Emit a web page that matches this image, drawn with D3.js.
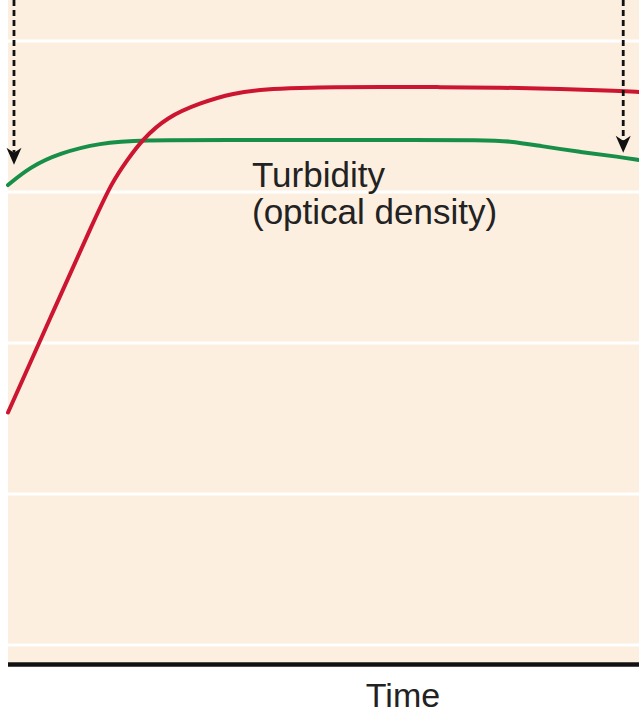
<!DOCTYPE html>
<head>
<meta charset="utf-8">
<style>
body { margin: 0; background: #fff; }
svg { display: block; }
.panel { fill: #fdefe0; }
.grid line { stroke: #fff; stroke-width: 3; }
.series { fill: none; stroke-width: 4; stroke-linecap: round; }
.baseline { stroke: #111; stroke-width: 4.5; }
.arrow line { stroke: #111; stroke-width: 2.8; stroke-dasharray: 6 4; }
.arrow path { fill: #111; }
text { font-family: "Liberation Sans", Arial, sans-serif; fill: #222; }
</style>
</head>
<body>
<svg></svg>
<script src="https://cdn.jsdelivr.net/npm/d3@7"></script>
<script>

/* global d3 */

// time runs 0..100 across the panel, values in grid units (grid lines at 0..4)
const gridValues = [0, 1, 2, 3, 4]

const redTime  = [0, 6.7, 13.8, 16.5, 18.9, 21.2, 25.2, 30.4, 35.7, 41.0, 46.3, 51.5, 58.9, 68.5, 78.0, 87.5, 97.0, 100]
const redValue = [1.54, 2.166, 2.828, 3.066, 3.212, 3.344, 3.497, 3.589, 3.656, 3.682, 3.689, 3.695, 3.695, 3.695, 3.692, 3.682, 3.669, 3.662]

const greenTime  = [0, 3.5, 8.2, 14.6, 20.9, 35, 50, 65, 74.8, 79.6, 84.3, 90.6, 97.0, 100]
const greenValue = [3.046, 3.166, 3.258, 3.325, 3.344, 3.344, 3.344, 3.344, 3.344, 3.338, 3.305, 3.265, 3.232, 3.212]

const arrowTime  = [0.95, 97.5]
const arrowValue = [3.18, 3.26]

const labelLines = ['Turbidity', '(optical density)']
const axisTitle = 'Time'

const size = {width: 639, height: 713}
const panel = {left: 8, right: 639, top: 0, bottom: 662}

const svg = d3.select('svg')
  .attr('width', size.width)
  .attr('height', size.height)

const x = d3.scaleLinear().domain([0, 100]).range([panel.left, panel.right])
const y = d3.scaleLinear().domain([0, 4]).range([645, 41])

const line = d3.line()
  .x(d => x(d[0]))
  .y(d => y(d[1]))
  .curve(d3.curveBasis)

backgroundLayer()
seriesLayer(d3.zip(greenTime, greenValue), '#178f48')
seriesLayer(d3.zip(redTime, redValue), '#cc1530')
arrowLayer()
labelLayer()

function backgroundLayer() {
  svg.append('rect')
    .attr('class', 'panel')
    .attr('x', panel.left)
    .attr('y', panel.top)
    .attr('width', panel.right - panel.left)
    .attr('height', panel.bottom - panel.top)

  svg.append('g')
      .attr('class', 'grid')
    .selectAll('line')
    .data(gridValues)
    .join('line')
      .attr('x1', panel.left)
      .attr('x2', panel.right)
      .attr('y1', d => y(d))
      .attr('y2', d => y(d))

  svg.append('line')
    .attr('class', 'baseline')
    .attr('x1', panel.left)
    .attr('x2', panel.right)
    .attr('y1', panel.bottom + 2.5)
    .attr('y2', panel.bottom + 2.5)
}

function seriesLayer(points, color) {
  svg.append('path')
    .datum(points)
    .attr('class', 'series')
    .attr('stroke', color)
    .attr('d', line)
}

function arrowLayer() {
  const arrows = svg.append('g')
    .selectAll('g')
    .data(d3.zip(arrowTime, arrowValue))
    .join('g')
      .attr('class', 'arrow')
      .attr('transform', d => `translate(${x(d[0])}, ${y(d[1])})`)

  arrows.append('line')
    .attr('x1', 0)
    .attr('x2', 0)
    .attr('y1', d => -y(d[1]))
    .attr('y2', -12)

  arrows.append('path')
    .attr('d', 'M0,0 L-7.5,-17 L0,-12 L7.5,-17 Z')
}

function labelLayer() {
  svg.append('text')
    .attr('y', 187)
    .style('font-size', '35px')
    .selectAll('tspan')
    .data(labelLines)
    .join('tspan')
      .attr('x', 252)
      .attr('dy', (d, i) => i ? 37 : 0)
      .text(d => d)

  svg.append('text')
    .attr('x', 403)
    .attr('y', 707)
    .attr('text-anchor', 'middle')
    .style('font-size', '34px')
    .text(axisTitle)
}

</script>
</body>
